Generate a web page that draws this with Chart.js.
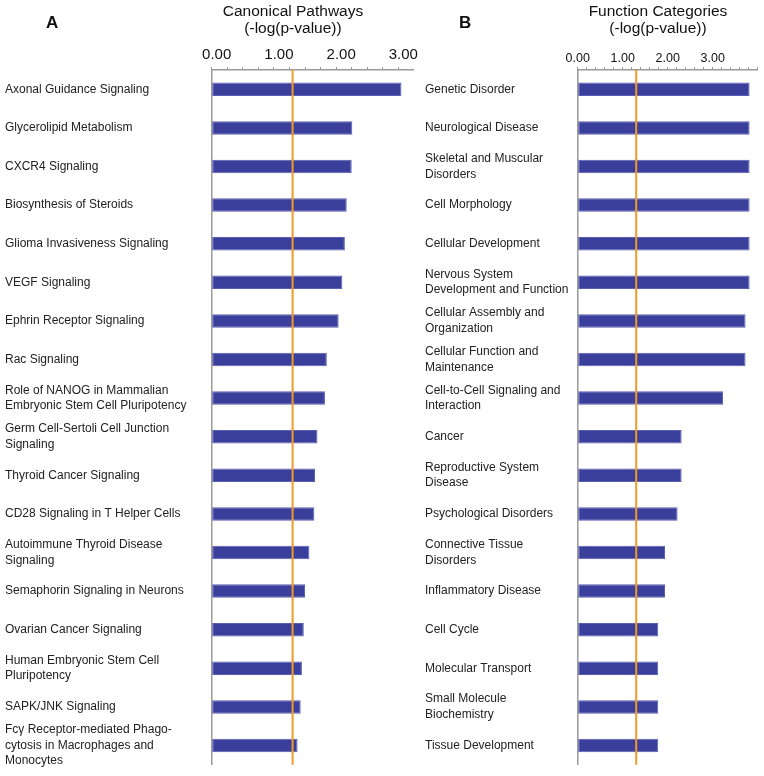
<!DOCTYPE html>
<html>
<head>
<meta charset="utf-8">
<title>Canonical Pathways and Function Categories</title>
<script src="https://cdn.jsdelivr.net/npm/chart.js@4.4.0/dist/chart.umd.min.js"></script>
<style>
  body { margin: 0; background: #fff; font-family: "Liberation Sans", Arial, Helvetica, sans-serif; color: #111; }
  #page { position: relative; width: 764px; height: 776px; overflow: hidden; }
  canvas { position: absolute; top: 0; }
  #chartA { left: 0; }
  #chartB { left: 418px; }
  .panel-letter { position: absolute; top: 14px; font-weight: bold; font-size: 17px; line-height: 17px; }
  .axis-title { position: absolute; top: 3px; font-size: 15.5px; line-height: 16.5px; text-align: center; transform: translateX(-50%); white-space: nowrap; }
</style>
</head>
<body>
<div id="page">
  <canvas id="chartA" width="418" height="776"></canvas>
  <canvas id="chartB" width="346" height="776"></canvas>
  <div class="panel-letter" style="left:46px">A</div>
  <div class="panel-letter" style="left:459px">B</div>
  <div class="axis-title" style="left:293px">Canonical Pathways<br>(-log(p-value))</div>
  <div class="axis-title" style="left:658px">Function Categories<br>(-log(p-value))</div>
</div>
<script>
// Panel A: canonical pathways, -log(p-value)
const pathwayLabels = [
    'Axonal Guidance Signaling',
    'Glycerolipid Metabolism',
    'CXCR4 Signaling',
    'Biosynthesis of Steroids',
    'Glioma Invasiveness Signaling',
    'VEGF Signaling',
    'Ephrin Receptor Signaling',
    'Rac Signaling',
    ['Role of NANOG in Mammalian', 'Embryonic Stem Cell Pluripotency'],
    ['Germ Cell-Sertoli Cell Junction', 'Signaling'],
    'Thyroid Cancer Signaling',
    'CD28 Signaling in T Helper Cells',
    ['Autoimmune Thyroid Disease', 'Signaling'],
    'Semaphorin Signaling in Neurons',
    'Ovarian Cancer Signaling',
    ['Human Embryonic Stem Cell', 'Pluripotency'],
    'SAPK/JNK Signaling',
    ['Fcγ Receptor-mediated Phago-', 'cytosis in Macrophages and', 'Monocytes']
];
const pathwayValues = [3.05, 2.26, 2.25, 2.17, 2.14, 2.10, 2.04, 1.85, 1.82,
    1.70, 1.66, 1.65, 1.57, 1.50, 1.48, 1.45, 1.43, 1.38];

// Panel B: function categories, -log(p-value)
const functionLabels = [
    'Genetic Disorder',
    'Neurological Disease',
    ['Skeletal and Muscular', 'Disorders'],
    'Cell Morphology',
    'Cellular Development',
    ['Nervous System', 'Development and Function'],
    ['Cellular Assembly and', 'Organization'],
    ['Cellular Function and', 'Maintenance'],
    ['Cell-to-Cell Signaling and', 'Interaction'],
    'Cancer',
    ['Reproductive System', 'Disease'],
    'Psychological Disorders',
    ['Connective Tissue', 'Disorders'],
    'Inflammatory Disease',
    'Cell Cycle',
    'Molecular Transport',
    ['Small Molecule', 'Biochemistry'],
    'Tissue Development'
];
const functionValues = [3.82, 3.82, 3.82, 3.82, 3.82, 3.82, 3.73, 3.73, 3.23,
    2.31, 2.31, 2.22, 1.94, 1.94, 1.79, 1.79, 1.79, 1.79];

// Axis ranges and the significance threshold (p = 0.05)
const pathwayAxisMax = 3.24;
const functionAxisMax = 4.0;
const thresholdValue = 1.3;

const fontFamily = '"Liberation Sans", Arial, Helvetica, sans-serif';
const axisGrey = '#9a9a9a';

// Draws the orange threshold line through the x scale
const thresholdLine = {
    id: 'thresholdLine',
    afterDatasetsDraw(chart) {
        const { ctx, chartArea, scales } = chart;
        const x = scales.x.getPixelForValue(thresholdValue);
        ctx.save();
        ctx.strokeStyle = '#f09a2a';
        ctx.lineWidth = 2;
        ctx.beginPath();
        ctx.moveTo(x, chartArea.top);
        ctx.lineTo(x, chartArea.bottom);
        ctx.stroke();
        ctx.restore();
    }
};

// Makes one horizontal bar panel
function createPanel(canvasId, labels, values, cfg) {
    const ctx = document.getElementById(canvasId);

    new Chart(ctx, {
        type: 'bar',
        data: {
            labels: labels,
            datasets: [{
                data: values,
                backgroundColor: '#3a3f9b',
                borderColor: '#5a5eb2',
                borderWidth: 1,
                borderSkipped: false,
                barPercentage: 0.35,
                categoryPercentage: 1
            }]
        },
        options: {
            indexAxis: 'y',
            responsive: false,
            devicePixelRatio: 1,
            animation: false,
            layout: { padding: cfg.padding },
            plugins: {
                legend: { display: false },
                tooltip: { enabled: false }
            },
            scales: {
                x: {
                    position: 'top',
                    min: 0,
                    max: cfg.axisMax,
                    grid: {
                        drawOnChartArea: false,
                        drawTicks: true,
                        tickLength: 3,
                        color: axisGrey,
                        lineWidth: 1
                    },
                    border: { color: axisGrey, width: 1.5 },
                    ticks: {
                        stepSize: cfg.minorStep,
                        includeBounds: false,
                        autoSkip: false,
                        maxRotation: 0,
                        labelOffset: cfg.labelOffset,
                        padding: cfg.tickPadding,
                        color: '#111',
                        font: { family: fontFamily, size: cfg.tickSize },
                        callback: function (value) {
                            const whole = Math.abs(value - Math.round(value)) < 1e-6;
                            if (whole && value < cfg.lastLabel + 0.01) {
                                return Number(value).toFixed(2);
                            }
                            return '';
                        }
                    },
                    afterFit: function (scale) {
                        scale.height = 70;
                        scale.paddingLeft = 0;
                        scale.paddingRight = 0;
                    }
                },
                y: {
                    grid: { display: false },
                    border: { color: axisGrey, width: 1.5 },
                    ticks: {
                        crossAlign: 'far',
                        autoSkip: false,
                        color: '#222',
                        font: { family: fontFamily, size: 12, lineHeight: 1.3 }
                    },
                    afterFit: function (scale) {
                        scale.width = cfg.labelWidth;
                        scale.paddingTop = 0;
                        scale.paddingBottom = 0;
                    }
                }
            }
        },
        plugins: [thresholdLine]
    });
}

createPanel('chartA', pathwayLabels, pathwayValues, {
    axisMax: pathwayAxisMax,
    minorStep: 0.25,
    lastLabel: 3,
    labelOffset: 5,
    tickPadding: 3,
    tickSize: 15,
    labelWidth: 206.7,
    padding: { left: 5, top: 0, right: 4.7, bottom: 11.2 }
});

createPanel('chartB', functionLabels, functionValues, {
    axisMax: functionAxisMax,
    minorStep: 0.2,
    lastLabel: 3,
    labelOffset: 0,
    tickPadding: 1,
    tickSize: 12.5,
    labelWidth: 152.7,
    padding: { left: 7, top: 0, right: 6.3, bottom: 11.2 }
});
</script>
</body>
</html>
